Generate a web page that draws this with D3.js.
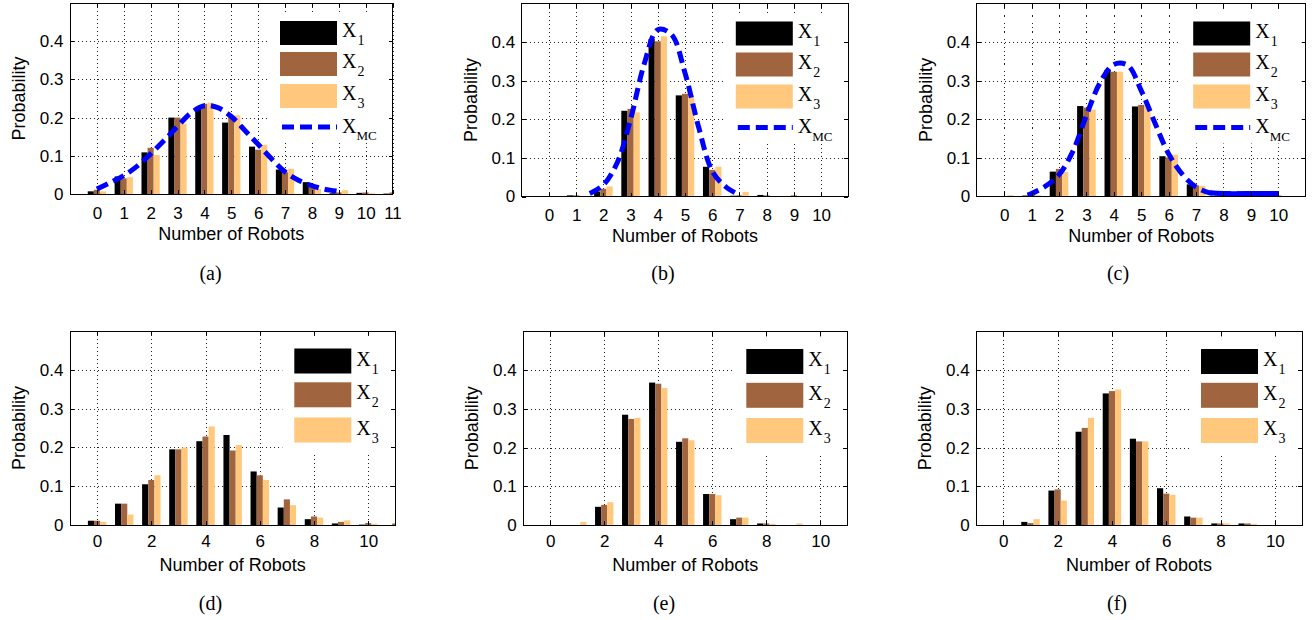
<!DOCTYPE html>
<html>
<head>
<meta charset="utf-8">
<script src="https://cdn.jsdelivr.net/npm/d3@7"></script>
<style>
body { margin: 0; background: #fff; }
svg { display: block; }
text { font-family: "Liberation Sans", Arial, sans-serif; fill: #000; }
</style>
</head>
<body>
<div id="chart"></div>
<script>
// categories / ticks
var robots = [0, 1, 2, 3, 4, 5, 6, 7, 8, 9, 10, 11]
var yTicks = [0, 0.1, 0.2, 0.3, 0.4]
var yTickLabels = ["0", "0.1", "0.2", "0.3", "0.4"]
var xTicksA = [0, 1, 2, 3, 4, 5, 6, 7, 8, 9, 10, 11]
var xTicksTop = [0, 1, 2, 3, 4, 5, 6, 7, 8, 9, 10]
var xTicksBottom = [0, 2, 4, 6, 8, 10]
var seriesNames = ["1", "2", "3"]

// (a)
var aX1 = [0.007, 0.046, 0.109, 0.200, 0.225, 0.187, 0.124, 0.064, 0.031, 0.002, 0.003, 0.001]
var aX2 = [0.011, 0.041, 0.121, 0.200, 0.236, 0.201, 0.116, 0.057, 0.022, 0.004, 0.004, 0.004]
var aX3 = [0.007, 0.044, 0.102, 0.184, 0.239, 0.206, 0.129, 0.066, 0.013, 0.010, 0.002, 0.001]
var aMcX = [0, 0.5, 1, 1.5, 2, 2.5, 3, 3.5, 4, 4.5, 5, 5.5, 6, 6.5, 7, 7.5, 8, 8.5, 9]
var aMcY = [0.013, 0.030, 0.048, 0.073, 0.105, 0.140, 0.177, 0.212, 0.231, 0.226, 0.203, 0.167, 0.130, 0.092, 0.058, 0.036, 0.022, 0.012, 0.007]

// (b)
var bX1 = [0, 0.003, 0.013, 0.222, 0.408, 0.262, 0.077, 0.002, 0.004, 0, 0, 0]
var bX2 = [0, 0.003, 0.020, 0.227, 0.402, 0.266, 0.069, 0.003, 0.003, 0.003, 0, 0]
var bX3 = [0, 0.002, 0.026, 0.218, 0.415, 0.262, 0.077, 0.012, 0.001, 0, 0, 0]
var bMcX = [1.5, 2, 2.5, 3, 3.5, 4, 4.5, 5, 5.5, 6, 6.5, 7]
var bMcY = [0.008, 0.030, 0.086, 0.200, 0.343, 0.432, 0.420, 0.320, 0.180, 0.066, 0.025, 0.004]

// (c)
var cX1 = [0, 0.002, 0.064, 0.234, 0.328, 0.233, 0.104, 0.031, 0.002, 0.001, 0, 0]
var cX2 = [0, 0.004, 0.071, 0.230, 0.323, 0.237, 0.101, 0.028, 0.002, 0.001, 0.002, 0]
var cX3 = [0.003, 0.003, 0.063, 0.225, 0.323, 0.233, 0.108, 0.027, 0.001, 0.001, 0, 0]
var cMcX = [0.85, 1, 1.5, 2, 2.5, 3, 3.5, 4, 4.5, 5, 5.5, 6, 6.5, 7, 7.5, 8, 9, 10]
var cMcY = [0.003, 0.007, 0.026, 0.056, 0.116, 0.210, 0.295, 0.342, 0.340, 0.274, 0.190, 0.110, 0.057, 0.024, 0.009, 0.007, 0.007, 0.007]

// (d)
var dX1 = [0.011, 0.055, 0.105, 0.195, 0.216, 0.232, 0.138, 0.045, 0.015, 0.004, 0.001, 0]
var dX2 = [0.011, 0.055, 0.116, 0.195, 0.228, 0.192, 0.128, 0.066, 0.022, 0.008, 0.005, 0.004]
var dX3 = [0.008, 0.027, 0.128, 0.200, 0.254, 0.206, 0.116, 0.051, 0.019, 0.012, 0.003, 0]

// (e)
var eX1 = [0, 0, 0.047, 0.285, 0.368, 0.215, 0.080, 0.015, 0.004, 0, 0, 0]
var eX2 = [0, 0, 0.052, 0.274, 0.365, 0.224, 0.080, 0.019, 0.004, 0, 0, 0]
var eX3 = [0, 0.008, 0.059, 0.277, 0.354, 0.219, 0.077, 0.019, 0.003, 0.004, 0, 0]

// (f)
var fX1 = [0, 0.008, 0.089, 0.241, 0.340, 0.223, 0.095, 0.022, 0.004, 0.004, 0, 0]
var fX2 = [0, 0.005, 0.092, 0.251, 0.346, 0.216, 0.081, 0.019, 0.004, 0.004, 0, 0]
var fX3 = [0, 0.015, 0.063, 0.277, 0.350, 0.216, 0.078, 0.019, 0.004, 0.003, 0, 0]

var colors = ["#000000", "#a0653e", "#ffc87d"]

var svg = d3.select("#chart").append("svg").attr("width", 1312).attr("height", 620)

// layout of each row (legend geometry relative to axes top/right)
var rowLayout = {
    1: { swL: -112.5, swW: 57, swH: 24, swY: [18, 49, 81], mcY: 124, bg: [-125, -4, 10, 140], xPad: 12.5, capY: 280 },
    2: { swL: -101, swW: 57, swH: 25, swY: [17.5, 51.3, 86.5], mcY: null, bg: [-113, -3, 5, 124], xPad: 9.5, capY: 610 }
}

var panels = [
    { name: "a", row: 1, box: [70, 392.5, 3, 194], data: [aX1, aX2, aX3], ticks: xTicksA, mcX: aMcX, mcY: aMcY, capX: 210.5 },
    { name: "b", row: 1, box: [521.7, 848.3, 3.5, 196.5], data: [bX1, bX2, bX3], ticks: xTicksTop, mcX: bMcX, mcY: bMcY, capX: 663 },
    { name: "c", row: 1, box: [976.8, 1305.7, 3.5, 196.3], data: [cX1, cX2, cX3], ticks: xTicksTop, mcX: cMcX, mcY: cMcY, capX: 1118, solidAfter: 7.5 },
    { name: "d", row: 2, box: [70, 395.3, 331, 525], data: [dX1, dX2, dX3], ticks: xTicksBottom, capX: 210.5 },
    { name: "e", row: 2, box: [523.2, 847.3, 331.5, 525], data: [eX1, eX2, eX3], ticks: xTicksBottom, capX: 664 },
    { name: "f", row: 2, box: [976.2, 1302, 331.5, 525], data: [fX1, fX2, fX3], ticks: xTicksBottom, capX: 1117 }
]

var groupWidth = 0.68
var barW = groupWidth / 3
var serif = "'Liberation Serif', 'Times New Roman', serif"

panels.forEach(function (p) {
    var L = rowLayout[p.row]
    var left = p.box[0], right = p.box[1], top = p.box[2], bottom = p.box[3]

    var xScale = d3.scaleLinear().domain([-1, 11]).range([left, right])
    var yScale = d3.scaleLinear().domain([0, 0.5]).range([bottom, top])

    var g = svg.append("g")

    g.append("clipPath").attr("id", "clip-" + p.name)
        .append("rect").attr("x", left).attr("y", top).attr("width", right - left).attr("height", bottom - top)

    // dotted grid
    var grid = g.append("g").attr("stroke", "#222").attr("stroke-width", 1)
        .attr("stroke-dasharray", "1,3").attr("shape-rendering", "crispEdges")
    grid.selectAll(null).data(yTicks.filter(d => d > 0)).enter().append("line")
        .attr("x1", left).attr("x2", right)
        .attr("y1", d => Math.round(yScale(d)) + 0.5).attr("y2", d => Math.round(yScale(d)) + 0.5)
    grid.selectAll(null).data(p.ticks).enter().append("line")
        .attr("y1", top).attr("y2", bottom)
        .attr("x1", d => Math.round(xScale(d)) + 0.5).attr("x2", d => Math.round(xScale(d)) + 0.5)

    // grouped bars
    var bars = g.append("g").attr("clip-path", "url(#clip-" + p.name + ")")
    p.data.forEach(function (series, i) {
        bars.selectAll(null).data(series).enter().append("rect")
            .attr("x", (d, j) => xScale(robots[j] - groupWidth / 2 + i * barW))
            .attr("width", xScale(barW) - xScale(0))
            .attr("y", d => yScale(d))
            .attr("height", d => yScale(0) - yScale(d))
            .attr("fill", colors[i])
    })

    // Monte Carlo curve
    if (p.mcX) {
        var pts = p.mcX.map((v, k) => [v, p.mcY[k]])
        var line = d3.line().x(d => xScale(d[0])).y(d => yScale(d[1])).curve(d3.curveCatmullRom.alpha(0.5))
        g.append("path").datum(pts).attr("clip-path", "url(#clip-" + p.name + ")")
            .attr("d", line).attr("fill", "none").attr("stroke", "#0000ff")
            .attr("stroke-width", 5).attr("stroke-dasharray", "12,6")
        if (p.solidAfter) {
            g.append("path").datum(pts.filter(d => d[0] >= p.solidAfter))
                .attr("d", line).attr("fill", "none").attr("stroke", "#0000ff").attr("stroke-width", 5)
        }
    }

    // legend
    g.append("rect").attr("x", right + L.bg[0]).attr("y", top + L.bg[2])
        .attr("width", L.bg[1] - L.bg[0]).attr("height", L.bg[3] - L.bg[2]).attr("fill", "#fff")

    var legend = g.append("g")
    seriesNames.forEach(function (s, i) {
        var sy = top + L.swY[i]
        legend.append("rect").attr("x", right + L.swL).attr("y", sy)
            .attr("width", L.swW).attr("height", L.swH).attr("fill", colors[i])
        var t = legend.append("text").attr("x", right + L.swL + L.swW + 5).attr("y", sy + L.swH * 0.68)
            .style("font-family", serif).style("font-size", "20px")
        t.append("tspan").text("X")
        t.append("tspan").attr("dy", 8).attr("dx", 1).style("font-size", "14px").text(s)
    })
    if (p.mcX) {
        var ly = top + L.mcY
        legend.append("line").attr("x1", right + L.swL + 2).attr("x2", right + L.swL + L.swW)
            .attr("y1", ly).attr("y2", ly).attr("stroke", "#0000ff").attr("stroke-width", 5)
            .attr("stroke-dasharray", "12,6")
        var tm = legend.append("text").attr("x", right + L.swL + L.swW + 5).attr("y", ly + 5.5)
            .style("font-family", serif).style("font-size", "20px")
        tm.append("tspan").text("X")
        tm.append("tspan").attr("dy", 7.5).style("font-size", "13px").text("MC")
    }

    // axes (ticks inward on all four sides)
    var leftAxis = d3.axisLeft(yScale).tickValues(yTicks).tickFormat((d, k) => yTickLabels[k])
        .tickSizeInner(-4).tickSizeOuter(0).tickPadding(6.5)
    var rightAxis = d3.axisRight(yScale).tickValues(yTicks).tickFormat("").tickSizeInner(-4).tickSizeOuter(0)
    var bottomAxis = d3.axisBottom(xScale).tickValues(p.ticks).tickSizeInner(-4).tickSizeOuter(0).tickPadding(L.xPad)
    var topAxis = d3.axisTop(xScale).tickValues(p.ticks).tickFormat("").tickSizeInner(-4).tickSizeOuter(0)

    var axes = [
        g.append("g").attr("transform", `translate(${left}, 0)`).call(leftAxis),
        g.append("g").attr("transform", `translate(${right}, 0)`).call(rightAxis),
        g.append("g").attr("transform", `translate(0, ${bottom})`).call(bottomAxis),
        g.append("g").attr("transform", `translate(0, ${top})`).call(topAxis)
    ]
    axes.forEach(function (a) {
        a.select(".domain").remove()
        a.selectAll("line").attr("stroke", "#000").attr("shape-rendering", "crispEdges")
        a.selectAll("text").style("font-family", "'Liberation Sans', Arial, sans-serif")
            .style("font-size", "17px").attr("fill", "#000")
    })

    g.append("rect").attr("x", left).attr("y", top).attr("width", right - left).attr("height", bottom - top)
        .attr("fill", "none").attr("stroke", "#000").attr("stroke-width", 1).attr("shape-rendering", "crispEdges")

    // axis titles
    g.append("text")
        .attr("transform", `translate(${left - 45}, ${(top + bottom) / 2}) rotate(-90)`)
        .attr("text-anchor", "middle").style("font-size", "18px")
        .text("Probability")

    g.append("text")
        .attr("x", (left + right) / 2).attr("y", bottom + 45.5)
        .attr("text-anchor", "middle").style("font-size", "18px")
        .text("Number of Robots")

    g.append("text")
        .attr("x", p.capX).attr("y", L.capY)
        .attr("text-anchor", "middle")
        .style("font-family", serif).style("font-size", "20px")
        .text("(" + p.name + ")")
})
</script>
</body>
</html>
